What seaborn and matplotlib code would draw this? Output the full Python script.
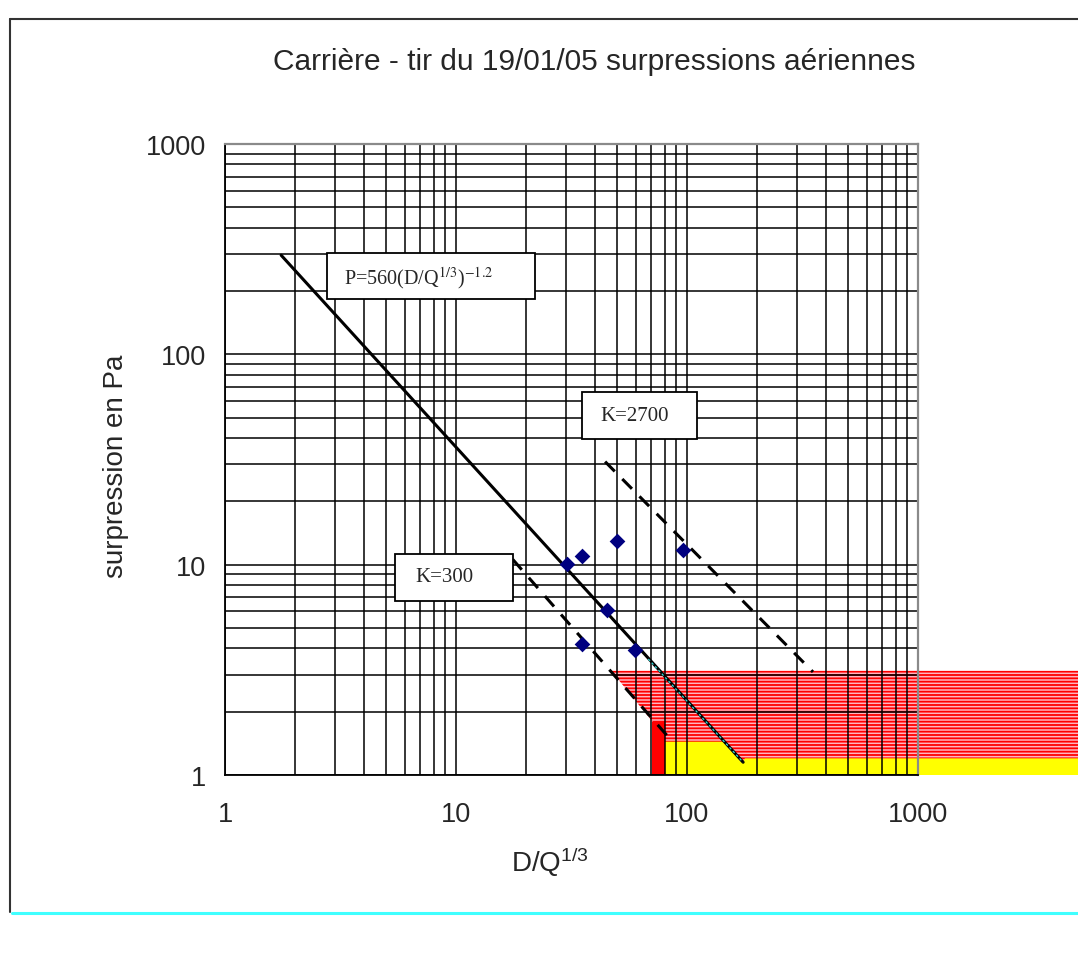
import numpy as np
import pandas as pd
import matplotlib
matplotlib.use("Agg")
import matplotlib.pyplot as plt
import seaborn as sns
from matplotlib.ticker import FixedLocator, FixedFormatter, LogLocator, NullFormatter
from matplotlib.patches import Rectangle
from matplotlib.lines import Line2D

# ---------------- data ----------------
title = "Carrière - tir du 19/01/05 surpressions aériennes"
ylabel = "surpression en Pa"
xlabel_txt = "D/Q"

# measured points (D/Q^1/3, surpression)
pts_x = [30.2, 35.0, 49.6, 95.8, 45.2, 35.0, 59.6]
pts_y = [10.1, 10.96, 12.9, 11.8, 6.06, 4.2, 3.94]

# fitted law P=560(D/Q^1/3)^-1.2 (end points)
law_x = [1.75, 175.0]
law_y = [296.0, 1.15]

# K=2700 and K=300 lines (end points)
k2700_x = [44.2, 351.0]
k2700_y = [30.9, 3.09]
k300_x = [17.6, 86.0]
k300_y = [10.6, 1.45]

# coloured zones (bottom right)
stripe_x = [47.0, 71.0, 71.0, 5000.0, 5000.0]
stripe_y = [3.13, 1.79, 1.0, 1.0, 3.13]
red_x = [70.5, 80.3, 80.3, 70.5]
red_y = [1.0, 1.0, 1.79, 1.79]
yellow_x = [80.3, 80.3, 144.0, 175.0, 178.0, 5000.0, 5000.0]
yellow_y = [1.0, 1.44, 1.44, 1.15, 1.2, 1.2, 1.0]
cyan_x = [68.0, 175.0]
cyan_y = [3.56, 1.15]

tick_vals = [1, 10, 100, 1000]
tick_labels = ["1", "10", "100", "1000"]

# ---------------- style ----------------
sns.set_style("white")
plt.rcParams["font.family"] = ["Liberation Sans", "DejaVu Sans"]
plt.rcParams["mathtext.fontset"] = "custom"
plt.rcParams["mathtext.rm"] = "Liberation Sans"
plt.rcParams["mathtext.it"] = "Liberation Sans"
plt.rcParams["hatch.linewidth"] = 1.3
plt.rcParams["hatch.color"] = "#ff0000"

W, H = 1078, 954
fig = plt.figure(figsize=(W / 100, H / 100), dpi=100)
fig.patch.set_facecolor("white")

ax_l, ax_r, ax_t, ax_b = 225, 918, 145, 776
ax = fig.add_axes([ax_l / W, 1 - ax_b / H, (ax_r - ax_l) / W, (ax_b - ax_t) / H])
ax.set_xscale("log")
ax.set_yscale("log")
ax.set_xlim(1, 1000)
ax.set_ylim(1, 1000)

# grid (above the coloured zones, below the lines)
ax.set_axisbelow(False)
ax.xaxis.set_minor_locator(LogLocator(base=10, subs=np.arange(2, 10)))
ax.yaxis.set_minor_locator(LogLocator(base=10, subs=np.arange(2, 10)))
ax.grid(which="both", color="black", linewidth=1.1)

# coloured zones
ax.fill(stripe_x, stripe_y, facecolor="#ffb4c0", edgecolor="#ff0000", hatch="-----",
        linewidth=0, zorder=0.3, clip_on=False)
ax.fill(red_x, red_y, facecolor="#ff0000", linewidth=0, zorder=0.35, clip_on=False)
ax.fill(yellow_x, yellow_y, facecolor="#ffff00", linewidth=0, zorder=0.35, clip_on=False)

# lines
sns.lineplot(x=law_x, y=law_y, ax=ax, color="black", linewidth=2.2, zorder=3)
sns.lineplot(x=k2700_x, y=k2700_y, ax=ax, color="black", linewidth=2.2,
             linestyle=(0, (4.5, 3.5)), zorder=3)
sns.lineplot(x=k300_x, y=k300_y, ax=ax, color="black", linewidth=2.2,
             linestyle=(0, (4.5, 3.5)), zorder=3)
sns.lineplot(x=cyan_x, y=cyan_y, ax=ax, color="#30d8d8", linewidth=0.9,
             linestyle=(0, (2, 2)), zorder=3.2)

# points
sns.scatterplot(x=pts_x, y=pts_y, ax=ax, marker="D", s=64, color="#000080",
                edgecolor="#000080", linewidth=0, zorder=4)

# ticks
ax.xaxis.set_major_locator(FixedLocator(tick_vals))
ax.yaxis.set_major_locator(FixedLocator(tick_vals))
ax.xaxis.set_major_formatter(FixedFormatter(tick_labels))
ax.yaxis.set_major_formatter(FixedFormatter(tick_labels))
ax.xaxis.set_minor_formatter(NullFormatter())
ax.yaxis.set_minor_formatter(NullFormatter())
ax.tick_params(which="major", direction="out", length=6.5, width=1.1, color="black",
               labelsize=19.5, pad=7)
ax.tick_params(axis="x", which="major", pad=12)
ax.tick_params(which="minor", length=0)
ax.set_xlabel("")
ax.set_ylabel("")

for s in ["left", "bottom"]:
    ax.spines[s].set_color("black")
    ax.spines[s].set_linewidth(1.3)
    ax.spines[s].set_zorder(2.7)
for s in ["top", "right"]:
    ax.spines[s].set_color("#8a8a8a")
    ax.spines[s].set_linewidth(1.6)
    ax.spines[s].set_zorder(2.7)

# annotation boxes (axes fraction coords)
def fx(px):
    return (px - ax_l) / (ax_r - ax_l)

def fy(py):
    return (ax_b - py) / (ax_b - ax_t)

def box(x0, y0, x1, y1):
    ax.add_patch(Rectangle((fx(x0), fy(y1)), fx(x1) - fx(x0), fy(y0) - fy(y1),
                           transform=ax.transAxes, facecolor="white",
                           edgecolor="black", linewidth=1.3, zorder=5))

box(327, 254, 535, 300)
ax.text(fx(344), fy(278), r"P=560(D/Q$^{\mathrm{1/3}}$)$^{\mathrm{-1.2}}$",
        transform=ax.transAxes, family=["Liberation Serif"], fontsize=14.5,
        math_fontfamily="stix", ha="left", va="center", zorder=6)
box(582, 393, 697, 440)
ax.text(fx(600), fy(417), "K=2700", transform=ax.transAxes,
        family=["Liberation Serif"], fontsize=15, ha="left", va="center", zorder=6)
box(395, 555, 513, 602)
ax.text(fx(415), fy(578), "K=300", transform=ax.transAxes,
        family=["Liberation Serif"], fontsize=15, ha="left", va="center", zorder=6)

# titles / labels
fig.text(594 / W, 1 - 62 / H, title, ha="center", va="center", fontsize=21.5)
fig.text(116 / W, 1 - 466 / H, ylabel, ha="center", va="center", rotation=90,
         fontsize=20)
fig.text(550 / W, 1 - 862 / H, xlabel_txt + r"$^{1/3}$", ha="center", va="center",
         fontsize=20)

# outer frame
fig.add_artist(Line2D([9.5 / W, 1.0], [1 - 19.5 / H, 1 - 19.5 / H], color="#333333",
                      linewidth=1.5, transform=fig.transFigure))
fig.add_artist(Line2D([9.5 / W, 9.5 / W], [1 - 19.5 / H, 1 - 913 / H], color="#333333",
                      linewidth=1.5, transform=fig.transFigure))
fig.add_artist(Line2D([12 / W, 1.0], [1 - 913.5 / H, 1 - 913.5 / H], color="#40ffff",
                      linewidth=2.2, transform=fig.transFigure))

fig.savefig("out.png", dpi=100)
